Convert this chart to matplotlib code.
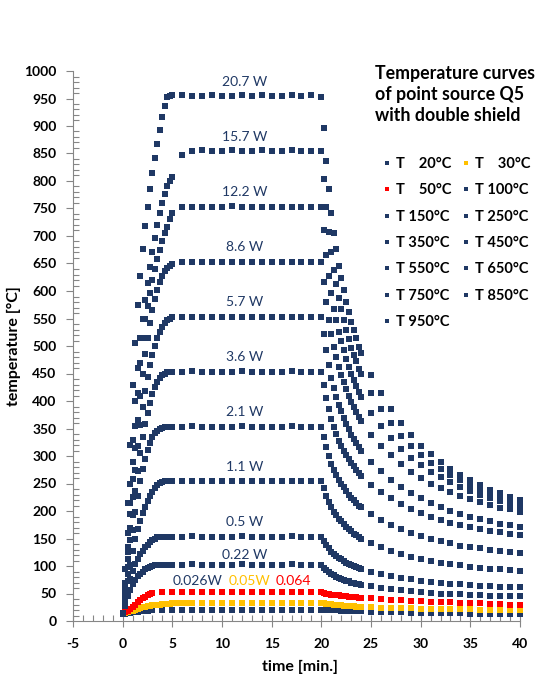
import matplotlib.pyplot as plt
import numpy as np

plt.rcParams['font.family'] = ['Lato', 'DejaVu Sans']
plt.rcParams['axes.unicode_minus'] = False

################################################################
# time grids (min) =============================================
# heating sampled every 15 s, plateau every minute,
# first 4 min of cooling every 15 s, then every minute
t_main = np.concatenate([np.arange(0, 5, 0.25), np.arange(5, 21, 1.0),
                         20 + np.arange(0.25, 4.01, 0.25), np.arange(25, 41, 1.0)])
t_fast = np.concatenate([np.arange(0, 3.01, 0.25), np.arange(4, 21, 1.0),
                         20 + np.arange(0.25, 4.01, 0.25), np.arange(25, 41, 1.0)])
t_slow = np.concatenate([np.arange(0, 7.01, 0.25), np.arange(8, 21, 1.0),
                         20 + np.arange(0.25, 4.01, 0.25), np.arange(25, 41, 1.0)])

# temperatures (°C) =============================================
T20 = [12, 13, 14, 15, 16, 16.5, 17, 17.5, 18, 18.5, 19, 19.5, 20,
       20, 20, 20.5, 20, 20, 20, 20.5, 20, 20, 20, 20, 20.5, 20, 20, 20, 20, 20,
       20, 20, 19.8, 19.7, 19.5, 19.4, 19.2, 19, 18.8, 18.6, 18.4, 18.2, 18, 17.8, 17.6, 17.5,
       17, 16.6, 16.2, 15.8, 15.4, 15, 14.7, 14.4, 14.1, 13.8, 13.5, 13.2, 12.9, 12.6, 12.3, 12]
T30 = [14, 15, 16, 17.5, 19, 20.5, 22, 23.5, 25, 26, 27, 27.8, 28.5, 29, 29.5,
       30, 30.5, 31, 31.3, 31.6, 31.9, 32.1, 32.3, 32.4, 32.5, 32.6, 32.6, 32.7, 32.7,
       32.5, 32.6, 32.5, 32.7, 32.5, 32.6, 32.5, 32.5, 32.7, 32.5, 32.6, 32.5, 32.5,
       32, 31.5, 31, 30.5, 30, 29.5, 29, 28.5, 28, 27.5, 27, 26.7, 26.4, 26, 25.7, 25.4,
       25, 24.5, 24, 23.5, 23, 22.7, 22.4, 22, 21.7, 21.4, 21.1, 20.8, 20.5, 20.3, 20.1, 20]
T50 = [15, 16, 18, 21, 26, 30, 34, 38, 41, 44, 47, 49, 51,
       52, 52, 52.5, 52, 52, 52, 52.5, 52, 52, 52, 52, 52.5, 52, 52, 52, 52, 52,
       51, 50, 49, 48, 47.5, 47, 46.5, 46, 45.5, 45, 44.5, 44, 43.5, 43, 42.5, 42,
       41, 40, 39, 38, 37, 36, 35, 34.5, 34, 33, 32.5, 32, 31, 30.5, 30, 29]
T100 = [15, 28, 45, 57, 67, 75, 81, 86, 90, 94, 97, 99, 100, 101, 102, 102, 102, 102, 102, 102,
        102, 102, 103, 102, 102, 102, 102, 103, 102, 102, 102, 102, 103, 102, 102, 102,
        97, 93, 89, 85, 83, 80, 78, 76, 75, 73, 72, 70, 69, 68, 67, 66,
        63, 60, 58, 56, 54, 53, 51, 50, 49, 49, 48, 47, 46, 46, 45, 45]
T150 = [15, 33, 57, 76, 91, 103, 113, 121, 128, 134, 139, 143, 147, 150, 152, 153, 153, 153, 153, 153,
        153, 153, 154, 153, 153, 153, 153, 154, 153, 153, 153, 153, 154, 153, 153, 153,
        146, 138, 132, 126, 122, 118, 114, 112, 109, 106, 104, 101, 100, 98, 96, 95,
        90, 85, 82, 78, 76, 73, 71, 70, 68, 67, 66, 64, 63, 62, 62, 61]
T250 = [15, 38, 72, 102, 128, 149, 167, 182, 196, 208, 218, 227, 235, 242, 247, 251, 253, 254, 254, 254,
        254, 254, 255, 254, 254, 254, 254, 255, 254, 254, 254, 254, 255, 254, 254, 254,
        241, 228, 217, 207, 199, 192, 186, 181, 176, 171, 167, 163, 159, 156, 153, 150,
        142, 134, 128, 122, 117, 113, 109, 106, 104, 101, 99, 97, 95, 94, 92, 91]
T350 = [15, 42, 86, 127, 165, 198, 228, 254, 276, 295, 311, 324, 334, 341, 346, 349, 351, 352, 353, 353,
        353, 353, 354, 353, 352, 353, 353, 354, 353, 353, 352, 353, 354, 353, 353, 353,
        335, 316, 300, 286, 275, 266, 256, 250, 243, 236, 230, 224, 220, 215, 210, 207,
        194, 184, 175, 167, 160, 154, 149, 145, 141, 137, 134, 132, 129, 127, 125, 123]
T450 = [15, 48, 98, 148, 193, 236, 272, 305, 334, 358, 379, 397, 412, 425, 435, 442, 447, 450, 452, 453,
        453, 453, 454, 453, 452, 453, 453, 454, 453, 453, 452, 453, 454, 453, 453, 453,
        429, 405, 385, 367, 352, 340, 328, 319, 310, 302, 294, 287, 281, 275, 269, 264,
        248, 235, 223, 212, 204, 196, 190, 184, 179, 174, 171, 167, 164, 161, 158, 156]
T550 = [15, 52, 112, 170, 225, 275, 318, 356, 390, 418, 443, 465, 484, 500, 514, 526, 535, 542, 547, 550,
        552, 553, 553, 553, 552, 553, 553, 553, 553, 552, 553, 553, 553, 553, 553, 553,
        522, 492, 465, 442, 423, 408, 393, 381, 370, 358, 349, 339, 331, 324, 316, 310,
        289, 272, 257, 244, 232, 223, 214, 207, 200, 195, 190, 185, 181, 177, 174, 171]
T650 = [15, 58, 125, 195, 258, 315, 365, 410, 450, 485, 515, 542, 565, 585, 602, 616, 627, 636, 642, 646,
        649, 652, 652, 653, 652, 652, 652, 653, 652, 652, 652, 653, 652, 652, 652, 652,
        616, 580, 548, 521, 498, 480, 462, 448, 435, 421, 410, 398, 389, 380, 371, 364,
        339, 319, 301, 285, 271, 260, 250, 242, 234, 227, 221, 216, 211, 206, 203, 199]
T750 = [15, 60, 135, 215, 290, 355, 415, 470, 515, 549, 573, 596, 620, 640, 658, 674, 690, 705, 717, 730,
        741, 753, 753, 752, 753, 753, 754, 753, 752, 753, 753, 753, 752, 753, 753, 753,
        710, 666, 628, 596, 568, 547, 525, 509, 492, 476, 462, 449, 438, 427, 416, 408,
        378, 354, 332, 313, 297, 283, 271, 261, 252, 244, 237, 230, 224, 219, 214, 210]
T850 = [15, 70, 160, 250, 330, 400, 460, 514, 549, 583, 615, 643, 670, 697, 720, 742, 760, 776, 790, 800,
        808, 847, 855, 856, 855, 855, 856, 855, 855, 856, 855, 855, 856, 855, 855, 855,
        804, 753, 708, 670, 638, 612, 587, 567, 548, 529, 513, 497, 484, 472, 459, 449,
        414, 385, 360, 337, 318, 302, 288, 276, 265, 256, 247, 240, 233, 226, 221, 216]
T950 = [15, 95, 215, 320, 430, 505, 575, 628, 676, 718, 752, 785, 815, 842, 868, 892, 916, 937, 953, 955,
        956, 957, 955, 955, 956, 954, 955, 957, 955, 956, 955, 954, 956, 955, 956, 953,
        896, 837, 786, 742, 705, 676, 646, 624, 602, 580, 562, 543, 529, 514, 499, 488,
        448, 415, 385, 360, 338, 319, 303, 289, 277, 266, 256, 247, 239, 232, 226, 220]

legend_labels = ['T    20°C', 'T    30°C', 'T    50°C', 'T 100°C', 'T 150°C', 'T 250°C', 'T 350°C',
                 'T 450°C', 'T 550°C', 'T 650°C', 'T 750°C', 'T 850°C', 'T 950°C']
power_labels = ['0.22 W', '0.5 W', '1.1 W', '2.1 W', '3.6 W', '5.7 W',
                '8.6 W', '12.2 W', '15.7 W', '20.7 W']
power_levels = [100, 150, 250, 350, 450, 550, 650, 750, 850, 950]
# end data =====================================================

navy = '#1f3864'
series = [(t_fast, T20, navy), (t_slow, T30, '#ffc000'), (t_fast, T50, '#ff0000'),
          (t_main, T100, navy), (t_main, T150, navy), (t_main, T250, navy),
          (t_main, T350, navy), (t_main, T450, navy), (t_main, T550, navy),
          (t_main, T650, navy), (t_main, T750, navy), (t_main, T850, navy),
          (t_main, T950, navy)]

fig = plt.figure(figsize=(5.38, 6.77), dpi=100)
ax = fig.add_axes([73 / 538, 1 - 621 / 677, 447 / 538, 550 / 677])

handles = []
for (tt, TT, c), lab in zip(series, legend_labels):
    h, = ax.plot(tt, TT, ls='none', marker='s', ms=3.9, mew=0, color=c,
                 clip_on=False, label=lab)
    handles.append(h)

# power annotations
for lab, lev in zip(power_labels, power_levels):
    dy = 20 if lev == 100 else 30
    ax.text(12.3, lev + dy, lab, ha='center', va='center', fontsize=10, color=navy)
ax.text(7.5, 73, '0.026W', ha='center', va='center', fontsize=10, color=navy)
ax.text(12.8, 73, '0.05W', ha='center', va='center', fontsize=10, color='#ffc000')
ax.text(17.2, 73, '0.064', ha='center', va='center', fontsize=10, color='#ff0000')

ax.set_xlim(-5, 40)
ax.set_ylim(0, 1000)
ax.set_xticks(np.arange(-5, 41, 5))
ax.set_xticks(np.arange(-5, 41, 1), minor=True)
ax.set_yticks(np.arange(0, 1001, 50))
ax.set_yticks(np.arange(0, 1001, 10), minor=True)
ax.tick_params(axis='x', which='major', direction='inout', length=8, width=0.8,
               color='#868686', pad=8, labelsize=10)
ax.tick_params(axis='x', which='minor', direction='in', length=4, width=0.8, color='#868686')
ax.tick_params(axis='y', which='major', direction='out', length=5, width=0.8,
               color='#868686', pad=7, labelsize=10)
ax.tick_params(axis='y', which='minor', direction='in', length=4, width=0.8, color='#868686')
for lbl in ax.get_xticklabels() + ax.get_yticklabels():
    lbl.set_fontweight('bold')
for s in ['top', 'right']:
    ax.spines[s].set_visible(False)
for s in ['left', 'bottom']:
    ax.spines[s].set_color('#868686')

ax.set_xlabel('time [min.]', fontsize=11.5, fontweight='bold')
ax.set_ylabel('temperature [°C]', fontsize=11.5, fontweight='bold')
ax.xaxis.set_label_coords((300 - 73) / 447, -(660 - 621) / 550)
ax.yaxis.set_label_coords(-(73 - 21) / 447, 0.5)

fig.text(375 / 538, 1 - 65 / 677, 'Temperature curves\nof point source Q5\nwith double shield',
         ha='left', va='top', fontsize=12.8, fontweight='bold', linespacing=1.3)

order = [0, 2, 4, 6, 8, 10, 12, 1, 3, 5, 7, 9, 11]
fig.legend([handles[i] for i in order], [legend_labels[i] for i in order],
           ncol=2, loc='upper left', bbox_to_anchor=(376 / 538, 1 - 151 / 677),
           frameon=False, prop={'weight': 'bold', 'size': 10.5},
           handlelength=0.7, handletextpad=0.3, columnspacing=0.6,
           labelspacing=0.85, markerscale=0.9, borderaxespad=0)

fig.savefig('out.png', dpi=100)
